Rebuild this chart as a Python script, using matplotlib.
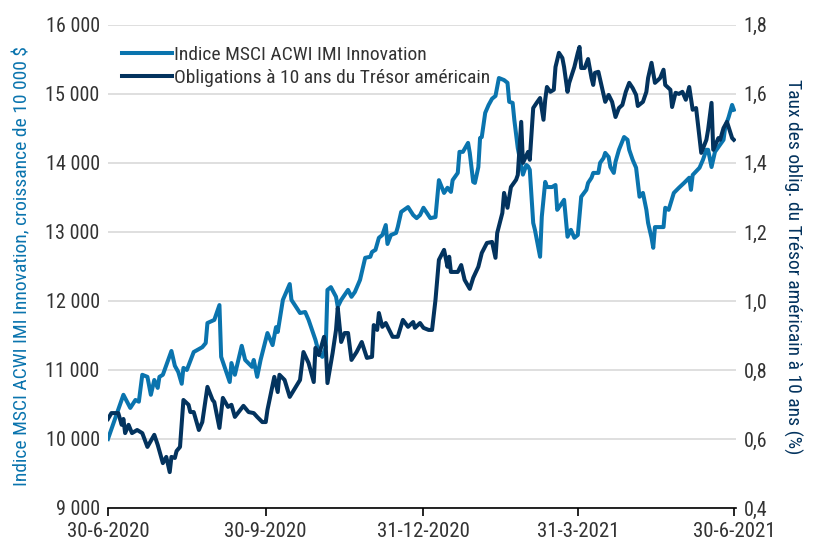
import matplotlib
matplotlib.use("Agg")
import matplotlib.pyplot as plt
import matplotlib.font_manager as fm
import pandas as pd
import numpy as np

# ---------------- data ----------------
start_date = "2020-06-30"

msci_days = [0, 9, 13, 16, 18, 20, 23, 25, 27, 29, 30, 32, 37, 39, 41, 43, 44, 46, 50, 55,
             57, 58, 62, 65, 66, 68, 71, 72, 74, 78, 80, 84, 85, 87, 89, 93, 96, 98, 99, 102,
             106, 107, 112, 115, 117, 119, 121, 123, 125, 127, 128, 130, 133, 134, 136, 140,
             142, 144, 147, 150, 153, 154, 156, 158, 160, 162, 163, 165, 168, 169, 171, 175,
             178, 180, 182, 184, 188, 191, 193, 196, 198, 200, 201, 204, 205, 207, 210, 211,
             213, 214, 216, 217, 218, 220, 222, 224, 226, 228, 231, 233, 234, 236, 237, 239,
             240, 242, 244, 245, 246, 248, 249, 252, 253, 255, 256, 259, 261, 262, 264, 266,
             268, 270, 272, 274, 276, 279, 280, 282, 283, 286, 287, 289, 290, 292, 293, 295,
             296, 298, 301, 303, 304, 306, 308, 310, 312, 314, 315, 317, 318, 319, 321, 324,
             325, 327, 330, 333, 336, 339, 340, 341, 345, 347, 349, 350, 352, 354, 356, 359,
             360, 362, 364, 365]
msci_values = [10000, 10640, 10450, 10565, 10540, 10930, 10900, 10640, 10855, 10740, 10900,
               10930, 11275, 11060, 10970, 10800, 11030, 11000, 11260, 11330, 11390, 11680,
               11725, 11940, 11190, 11045, 10825, 11100, 10930, 11350, 11145, 11045, 11145,
               10900, 11145, 11535, 11360, 11620, 11550, 12015, 12245, 12015, 11825, 11840,
               11725, 11580, 11435, 11245, 11190, 11330, 12160, 12200, 12060, 11915, 12015,
               12160, 12060, 12130, 12305, 12625, 12640, 12710, 12740, 12915, 12955, 13100,
               12825, 12955, 12985, 13070, 13290, 13360, 13245, 13200, 13245, 13350, 13200,
               13215, 13750, 13565, 13640, 13580, 13750, 13855, 14160, 14160, 14290, 14145,
               13725, 13710, 13940, 14360, 14375, 14725, 14840, 14930, 14970, 15230, 15200,
               15160, 14885, 14870, 14620, 14215, 14085, 13830, 13970, 13950, 13900, 13130,
               13030, 12640, 13220, 13725, 13650, 13650, 13680, 13320, 13390, 13465, 12930,
               13030, 12915, 12955, 13510, 13610, 13710, 13785, 13855, 13855, 14000, 14070,
               14145, 14085, 13940, 13855, 14015, 14190, 14375, 14335, 14190, 14045, 13930,
               13510, 13565, 13320, 13130, 12915, 12770, 13070, 13070, 13070, 13350, 13320,
               13565, 13640, 13710, 13785, 13610, 13825, 13930, 14045, 14190, 14190, 13940,
               14160, 14230, 14335, 14520, 14665, 14840, 14770]

yield_days = [0, 2, 6, 8, 9, 10, 12, 14, 17, 20, 23, 27, 29, 32, 34, 36, 37, 39, 40, 42,
              44, 47, 48, 50, 53, 55, 58, 61, 62, 65, 67, 70, 72, 74, 79, 82, 85, 87, 90, 92,
              93, 97, 99, 100, 103, 106, 112, 114, 117, 120, 121, 123, 126, 127, 128, 131, 133,
              134, 136, 138, 140, 142, 145, 148, 151, 154, 155, 157, 158, 160, 162, 166, 169,
              172, 175, 178, 179, 182, 184, 187, 189, 191, 193, 196, 198, 199, 200, 204, 206,
              208, 211, 213, 216, 218, 221, 224, 226, 227, 230, 231, 233, 235, 238, 239, 241,
              242, 245, 246, 248, 250, 252, 254, 255, 256, 258, 260, 261, 263, 265, 266, 268,
              269, 272, 274, 275, 276, 278, 280, 282, 283, 284, 286, 288, 290, 292, 294, 296,
              298, 300, 302, 304, 306, 308, 309, 312, 314, 315, 317, 319, 321, 322, 324, 325,
              328, 329, 331, 333, 335, 337, 339, 341, 343, 346, 349, 350, 352, 353, 356, 357,
              359, 361, 363, 364, 365]
yield_values = [0.658, 0.675, 0.675, 0.641, 0.658, 0.617, 0.641, 0.617, 0.626, 0.617, 0.577,
                0.612, 0.583, 0.530, 0.548, 0.504, 0.548, 0.545, 0.565, 0.577, 0.713, 0.699,
                0.678, 0.678, 0.626, 0.649, 0.751, 0.713, 0.707, 0.632, 0.719, 0.693, 0.699,
                0.664, 0.696, 0.678, 0.675, 0.664, 0.649, 0.649, 0.684, 0.780, 0.736, 0.786,
                0.771, 0.722, 0.771, 0.852, 0.820, 0.765, 0.864, 0.843, 0.896, 0.867, 0.762,
                0.849, 0.916, 0.980, 0.881, 0.907, 0.907, 0.829, 0.852, 0.881, 0.835, 0.838,
                0.930, 0.916, 0.965, 0.925, 0.936, 0.896, 0.896, 0.945, 0.925, 0.939, 0.922,
                0.936, 0.922, 0.916, 0.916, 1.003, 1.119, 1.148, 1.099, 1.128, 1.084, 1.084,
                1.104, 1.061, 1.035, 1.067, 1.099, 1.139, 1.168, 1.171, 1.125, 1.197, 1.255,
                1.313, 1.270, 1.330, 1.351, 1.365, 1.519, 1.400, 1.432, 1.409, 1.559, 1.574,
                1.588, 1.525, 1.583, 1.620, 1.606, 1.612, 1.678, 1.719, 1.704, 1.678, 1.606,
                1.632, 1.678, 1.719, 1.736, 1.675, 1.675, 1.701, 1.646, 1.626, 1.661, 1.664,
                1.620, 1.577, 1.597, 1.577, 1.533, 1.559, 1.568, 1.606, 1.632, 1.617, 1.597,
                1.565, 1.577, 1.606, 1.646, 1.690, 1.632, 1.641, 1.646, 1.670, 1.626, 1.612,
                1.562, 1.603, 1.600, 1.606, 1.583, 1.620, 1.554, 1.559, 1.429, 1.467, 1.496,
                1.574, 1.438, 1.472, 1.467, 1.501, 1.519, 1.487, 1.472, 1.467]

x_tick_dates = ["2020-06-30", "2020-09-30", "2020-12-31", "2021-03-31", "2021-06-30"]
x_tick_labels = ["30-6-2020", "30-9-2020", "31-12-2020", "31-3-2021", "30-6-2021"]
left_ticks = [9000, 10000, 11000, 12000, 13000, 14000, 15000, 16000]
left_tick_labels = ["9 000", "10 000", "11 000", "12 000", "13 000", "14 000", "15 000", "16 000"]
right_ticks = [0.4, 0.6, 0.8, 1.0, 1.2, 1.4, 1.6, 1.8]
right_tick_labels = ["0,4", "0,6", "0,8", "1,0", "1,2", "1,4", "1,6", "1,8"]

series_labels = ["Indice MSCI ACWI IMI Innovation", "Obligations à 10 ans du Trésor américain"]
left_axis_label = "Indice MSCI ACWI IMI Innovation, croissance de 10 000 $"
right_axis_label = "Taux des oblig. du Trésor américain à 10 ans (%)"

# ---------------- style ----------------
installed = {f.name for f in fm.fontManager.ttflist}
fam = []
for cand in ["Liberation Sans Narrow", "DejaVu Sans Condensed", "Roboto Condensed", "Open Sans"]:
    if cand in installed:
        fam.append(cand)
fam.append("DejaVu Sans")
plt.rcParams["font.family"] = fam

light = "#0a74ae"
dark = "#03335e"
text_col = "#333333"
grid_col = "#dcdcdc"

t0 = pd.Timestamp(start_date)
msci_dates = t0 + pd.to_timedelta(msci_days, unit="D")
yield_dates = t0 + pd.to_timedelta(yield_days, unit="D")

fig = plt.figure(figsize=(8.15, 5.49), dpi=100)
ax = fig.add_axes([0.1325, 0.0747, 0.770, 0.880])
ax2 = ax.twinx()

l1, = ax.plot(msci_dates, msci_values, color=light, lw=2.9, solid_joinstyle="round",
              label=series_labels[0])
l2, = ax2.plot(yield_dates, yield_values, color=dark, lw=2.9, solid_joinstyle="round",
               label=series_labels[1])

ax.set_ylim(left_ticks[0], left_ticks[-1])
ax2.set_ylim(right_ticks[0], right_ticks[-1])
ax.set_xlim(pd.Timestamp(x_tick_dates[0]), pd.Timestamp(x_tick_dates[-1]) + pd.Timedelta(days=1))

ax.set_yticks(left_ticks)
ax.set_yticklabels(left_tick_labels)
ax2.set_yticks(right_ticks)
ax2.set_yticklabels(right_tick_labels)
ax.set_xticks(pd.to_datetime(x_tick_dates))
ax.set_xticklabels(x_tick_labels)

for a in (ax, ax2):
    for s in ["top", "left", "right"]:
        a.spines[s].set_visible(False)
ax2.spines["bottom"].set_visible(False)
ax.spines["bottom"].set_color("#000000")
ax.spines["bottom"].set_linewidth(1.2)

ax.grid(axis="y", color=grid_col, lw=1.3)
ax.set_axisbelow(True)
ax.tick_params(axis="y", length=0, labelsize=14.5, labelcolor=text_col, pad=6)
ax2.tick_params(axis="y", length=0, labelsize=14.5, labelcolor=text_col, pad=6)
ax.tick_params(axis="x", length=6, width=1.2, direction="out", labelsize=15,
               labelcolor=text_col, pad=4)

ax.set_ylabel(left_axis_label, color=light, fontsize=14, labelpad=10)
ax2.set_ylabel(right_axis_label, color=dark, fontsize=14, rotation=270, labelpad=25)

leg = ax2.legend(handles=[l1, l2], loc="upper left", bbox_to_anchor=(0.0, 0.985),
                 frameon=False, fontsize=14, handlelength=2.6, handletextpad=0.1,
                 labelspacing=0.25, borderaxespad=0.3)
for t in leg.get_texts():
    t.set_color(text_col)

fig.savefig("out.png", dpi=100)
